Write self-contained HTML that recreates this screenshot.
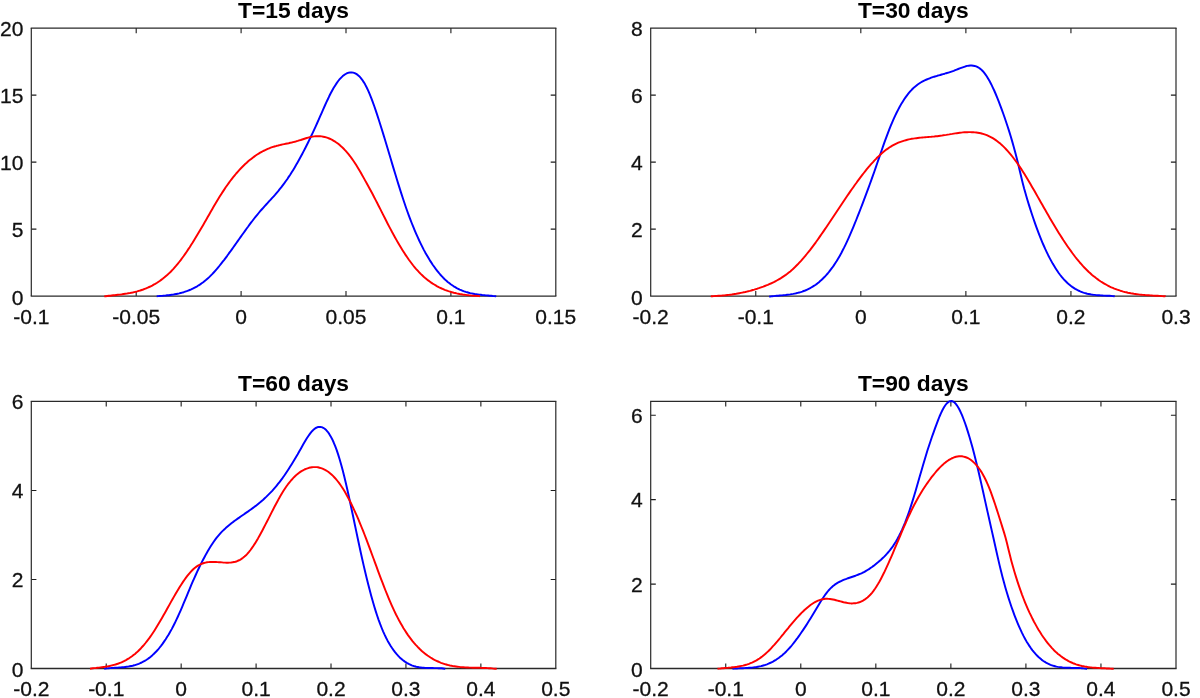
<!DOCTYPE html>
<html lang="en">
<head>
<meta charset="utf-8">
<title>Density estimates</title>
<style>
html,body{margin:0;padding:0;background:#fff;}
body{width:1200px;height:698px;overflow:hidden;font-family:"Liberation Sans",sans-serif;}
svg{display:block;will-change:transform;}
.t{font-family:"Liberation Sans",sans-serif;font-size:21.0px;fill:#111;stroke:#111;stroke-width:0.3px;}
.h{font-family:"Liberation Sans",sans-serif;font-size:22.8px;font-weight:bold;fill:#000;}
</style>
</head>
<body>
<svg width="1200" height="698" viewBox="0 0 1200 698">
<rect width="1200" height="698" fill="#fff"/>
<g><path d="M136.20,296.10v-5.1M136.20,28.10v5.1M241.10,296.10v-5.1M241.10,28.10v5.1M346.00,296.10v-5.1M346.00,28.10v5.1M450.90,296.10v-5.1M450.90,28.10v5.1M31.30,229.10h5.1M555.80,229.10h-5.1M31.30,162.10h5.1M555.80,162.10h-5.1M31.30,95.10h5.1M555.80,95.10h-5.1" stroke="#1c1c1c" stroke-width="1.1" fill="none"/>
<path d="M30.70,28.10H556.40M30.70,296.10H556.40" fill="none" stroke="#2a2a2a" stroke-width="1.35"/>
<path d="M31.30,28.10V296.10M555.80,28.10V296.10" fill="none" stroke="#2a2a2a" stroke-width="1.2"/>
<path d="M156.7,296.2 L158.2,296.1 L159.7,296.0 L161.2,295.9 L162.7,295.8 L164.2,295.6 L165.7,295.5 L167.2,295.3 L168.7,295.2 L170.2,295.0 L171.7,294.8 L173.2,294.6 L174.7,294.3 L176.2,294.0 L177.7,293.7 L179.2,293.4 L180.7,293.0 L182.2,292.6 L183.7,292.2 L185.2,291.7 L186.7,291.2 L188.2,290.6 L189.7,290.0 L191.2,289.4 L192.7,288.7 L194.2,287.9 L195.7,287.1 L197.2,286.3 L198.7,285.3 L200.2,284.4 L201.7,283.3 L203.2,282.2 L204.7,281.0 L206.2,279.8 L207.7,278.5 L209.2,277.1 L210.7,275.6 L212.2,274.1 L213.7,272.5 L215.2,270.8 L216.7,269.1 L218.2,267.3 L219.7,265.5 L221.2,263.6 L222.7,261.7 L224.2,259.8 L225.7,257.8 L227.2,255.8 L228.7,253.7 L230.2,251.7 L231.7,249.6 L233.2,247.5 L234.7,245.4 L236.2,243.3 L237.7,241.1 L239.2,239.0 L240.7,236.9 L242.2,234.8 L243.7,232.7 L245.2,230.6 L246.7,228.5 L248.2,226.5 L249.7,224.4 L251.2,222.4 L252.7,220.5 L254.2,218.5 L255.7,216.6 L257.2,214.8 L258.7,213.0 L260.2,211.2 L261.7,209.5 L263.2,207.8 L264.7,206.1 L266.2,204.5 L267.7,202.9 L269.2,201.2 L270.7,199.6 L272.2,197.9 L273.7,196.3 L275.2,194.6 L276.7,192.8 L278.2,191.1 L279.7,189.2 L281.2,187.4 L282.7,185.4 L284.2,183.4 L285.7,181.3 L287.2,179.2 L288.7,176.9 L290.2,174.7 L291.7,172.3 L293.2,169.9 L294.7,167.4 L296.2,164.8 L297.7,162.2 L299.2,159.5 L300.7,156.8 L302.2,154.0 L303.7,151.1 L305.2,148.2 L306.7,145.2 L308.2,142.2 L309.7,139.1 L311.2,136.0 L312.7,132.8 L314.2,129.6 L315.7,126.3 L317.2,123.0 L318.7,119.6 L320.2,116.2 L321.7,112.8 L323.2,109.4 L324.7,106.0 L326.2,102.7 L327.7,99.5 L329.2,96.3 L330.7,93.3 L332.2,90.5 L333.7,87.8 L335.2,85.4 L336.7,83.1 L338.2,81.0 L339.7,79.2 L341.2,77.6 L342.7,76.1 L344.2,74.9 L345.7,74.0 L347.2,73.2 L348.7,72.7 L350.2,72.4 L351.7,72.4 L353.2,72.6 L354.7,73.1 L356.2,73.9 L357.7,74.9 L359.2,76.2 L360.7,77.9 L362.2,79.8 L363.7,82.1 L365.2,84.6 L366.7,87.5 L368.2,90.7 L369.7,94.2 L371.2,97.9 L372.7,101.9 L374.2,106.0 L375.7,110.4 L377.2,114.9 L378.7,119.5 L380.2,124.2 L381.7,129.0 L383.2,133.9 L384.7,138.8 L386.2,143.8 L387.7,148.8 L389.2,153.8 L390.7,158.8 L392.2,163.9 L393.7,168.9 L395.2,173.8 L396.7,178.8 L398.2,183.6 L399.7,188.4 L401.2,193.1 L402.7,197.8 L404.2,202.3 L405.7,206.7 L407.2,211.0 L408.7,215.1 L410.2,219.1 L411.7,223.0 L413.2,226.7 L414.7,230.3 L416.2,233.8 L417.7,237.2 L419.2,240.5 L420.7,243.6 L422.2,246.6 L423.7,249.6 L425.2,252.4 L426.7,255.0 L428.2,257.6 L429.7,260.1 L431.2,262.4 L432.7,264.7 L434.2,266.8 L435.7,268.9 L437.2,270.8 L438.7,272.7 L440.2,274.5 L441.7,276.1 L443.2,277.7 L444.7,279.2 L446.2,280.6 L447.7,281.9 L449.2,283.1 L450.7,284.3 L452.2,285.3 L453.7,286.3 L455.2,287.2 L456.7,288.1 L458.2,288.8 L459.7,289.6 L461.2,290.2 L462.7,290.8 L464.2,291.4 L465.7,291.9 L467.2,292.3 L468.7,292.7 L470.2,293.1 L471.7,293.4 L473.2,293.7 L474.7,294.0 L476.2,294.2 L477.7,294.4 L479.2,294.6 L480.7,294.8 L482.2,295.0 L483.7,295.1 L485.2,295.3 L486.7,295.4 L488.2,295.5 L489.7,295.7 L491.2,295.8 L492.7,296.0 L494.2,296.1 L495.7,296.3 L496.2,296.4" fill="none" stroke="#0000ff" stroke-width="1.95" stroke-linejoin="round" stroke-linecap="butt"/>
<path d="M104.2,296.4 L105.7,296.2 L107.2,296.0 L108.7,295.8 L110.2,295.7 L111.7,295.5 L113.2,295.3 L114.7,295.2 L116.2,295.0 L117.7,294.8 L119.2,294.6 L120.7,294.5 L122.2,294.3 L123.7,294.0 L125.2,293.8 L126.7,293.6 L128.2,293.3 L129.7,293.1 L131.2,292.8 L132.7,292.5 L134.2,292.1 L135.7,291.8 L137.2,291.4 L138.7,290.9 L140.2,290.5 L141.7,290.0 L143.2,289.5 L144.7,288.9 L146.2,288.3 L147.7,287.7 L149.2,287.0 L150.7,286.3 L152.2,285.6 L153.7,284.7 L155.2,283.9 L156.7,283.0 L158.2,282.0 L159.7,281.0 L161.2,279.9 L162.7,278.8 L164.2,277.6 L165.7,276.3 L167.2,275.0 L168.7,273.6 L170.2,272.2 L171.7,270.7 L173.2,269.1 L174.7,267.4 L176.2,265.7 L177.7,263.9 L179.2,262.0 L180.7,260.1 L182.2,258.0 L183.7,256.0 L185.2,253.9 L186.7,251.7 L188.2,249.4 L189.7,247.2 L191.2,244.8 L192.7,242.5 L194.2,240.0 L195.7,237.6 L197.2,235.1 L198.7,232.6 L200.2,230.0 L201.7,227.5 L203.2,224.9 L204.7,222.3 L206.2,219.7 L207.7,217.0 L209.2,214.4 L210.7,211.8 L212.2,209.2 L213.7,206.6 L215.2,204.1 L216.7,201.6 L218.2,199.1 L219.7,196.6 L221.2,194.2 L222.7,191.9 L224.2,189.6 L225.7,187.3 L227.2,185.2 L228.7,183.1 L230.2,181.0 L231.7,179.1 L233.2,177.2 L234.7,175.3 L236.2,173.5 L237.7,171.8 L239.2,170.1 L240.7,168.5 L242.2,167.0 L243.7,165.5 L245.2,164.0 L246.7,162.7 L248.2,161.3 L249.7,160.1 L251.2,158.9 L252.7,157.7 L254.2,156.6 L255.7,155.5 L257.2,154.5 L258.7,153.6 L260.2,152.7 L261.7,151.8 L263.2,151.0 L264.7,150.3 L266.2,149.6 L267.7,148.9 L269.2,148.3 L270.7,147.7 L272.2,147.2 L273.7,146.7 L275.2,146.3 L276.7,145.8 L278.2,145.5 L279.7,145.1 L281.2,144.7 L282.7,144.4 L284.2,144.1 L285.7,143.8 L287.2,143.5 L288.7,143.2 L290.2,142.8 L291.7,142.5 L293.2,142.1 L294.7,141.8 L296.2,141.3 L297.7,140.9 L299.2,140.4 L300.7,140.0 L302.2,139.5 L303.7,139.0 L305.2,138.5 L306.7,138.0 L308.2,137.6 L309.7,137.2 L311.2,136.9 L312.7,136.6 L314.2,136.4 L315.7,136.2 L317.2,136.2 L318.7,136.2 L320.2,136.3 L321.7,136.4 L323.2,136.7 L324.7,137.0 L326.2,137.4 L327.7,137.9 L329.2,138.5 L330.7,139.2 L332.2,139.9 L333.7,140.8 L335.2,141.7 L336.7,142.7 L338.2,143.8 L339.7,145.1 L341.2,146.4 L342.7,147.8 L344.2,149.3 L345.7,150.9 L347.2,152.6 L348.7,154.4 L350.2,156.3 L351.7,158.4 L353.2,160.5 L354.7,162.7 L356.2,165.1 L357.7,167.5 L359.2,170.0 L360.7,172.6 L362.2,175.2 L363.7,177.9 L365.2,180.6 L366.7,183.3 L368.2,186.0 L369.7,188.8 L371.2,191.5 L372.7,194.3 L374.2,197.2 L375.7,200.1 L377.2,203.0 L378.7,206.0 L380.2,208.9 L381.7,211.9 L383.2,214.9 L384.7,217.8 L386.2,220.8 L387.7,223.7 L389.2,226.6 L390.7,229.4 L392.2,232.3 L393.7,235.0 L395.2,237.7 L396.7,240.4 L398.2,243.0 L399.7,245.5 L401.2,248.0 L402.7,250.4 L404.2,252.8 L405.7,255.1 L407.2,257.3 L408.7,259.5 L410.2,261.5 L411.7,263.5 L413.2,265.5 L414.7,267.3 L416.2,269.1 L417.7,270.7 L419.2,272.3 L420.7,273.9 L422.2,275.3 L423.7,276.7 L425.2,278.0 L426.7,279.2 L428.2,280.4 L429.7,281.5 L431.2,282.6 L432.7,283.6 L434.2,284.5 L435.7,285.4 L437.2,286.3 L438.7,287.1 L440.2,287.8 L441.7,288.5 L443.2,289.1 L444.7,289.8 L446.2,290.3 L447.7,290.9 L449.2,291.4 L450.7,291.8 L452.2,292.3 L453.7,292.7 L455.2,293.0 L456.7,293.4 L458.2,293.7 L459.7,294.0 L461.2,294.2 L462.7,294.5 L464.2,294.7 L465.7,294.9 L467.2,295.1 L468.7,295.3 L470.2,295.4 L471.7,295.6 L473.2,295.7 L474.7,295.8 L476.2,295.9 L477.7,296.0 L479.2,296.1 L480.0,296.2" fill="none" stroke="#ff0000" stroke-width="1.95" stroke-linejoin="round" stroke-linecap="butt"/>
<text x="31.30" y="324.10" text-anchor="middle" class="t">-0.1</text>
<text x="136.20" y="324.10" text-anchor="middle" class="t">-0.05</text>
<text x="241.10" y="324.10" text-anchor="middle" class="t">0</text>
<text x="346.00" y="324.10" text-anchor="middle" class="t">0.05</text>
<text x="450.90" y="324.10" text-anchor="middle" class="t">0.1</text>
<text x="555.80" y="324.10" text-anchor="middle" class="t">0.15</text>
<text x="23.40" y="304.80" text-anchor="end" class="t">0</text>
<text x="23.40" y="236.80" text-anchor="end" class="t">5</text>
<text x="23.40" y="169.80" text-anchor="end" class="t">10</text>
<text x="23.40" y="102.80" text-anchor="end" class="t">15</text>
<text x="23.40" y="35.80" text-anchor="end" class="t">20</text>
<text x="293.55" y="17.70" text-anchor="middle" class="h">T=15 days</text></g>
<g><path d="M755.76,296.10v-5.1M755.76,28.10v5.1M860.82,296.10v-5.1M860.82,28.10v5.1M965.88,296.10v-5.1M965.88,28.10v5.1M1070.94,296.10v-5.1M1070.94,28.10v5.1M650.70,229.10h5.1M1176.00,229.10h-5.1M650.70,162.10h5.1M1176.00,162.10h-5.1M650.70,95.10h5.1M1176.00,95.10h-5.1" stroke="#1c1c1c" stroke-width="1.1" fill="none"/>
<path d="M650.10,28.10H1176.60M650.10,296.10H1176.60" fill="none" stroke="#2a2a2a" stroke-width="1.35"/>
<path d="M650.70,28.10V296.10M1176.00,28.10V296.10" fill="none" stroke="#2a2a2a" stroke-width="1.2"/>
<path d="M769.2,296.4 L770.7,296.4 L772.2,296.2 L773.7,296.1 L775.2,295.9 L776.7,295.8 L778.2,295.7 L779.7,295.5 L781.2,295.4 L782.7,295.3 L784.2,295.1 L785.7,295.0 L787.2,294.8 L788.7,294.6 L790.2,294.4 L791.7,294.1 L793.2,293.9 L794.7,293.6 L796.2,293.3 L797.7,292.9 L799.2,292.5 L800.7,292.1 L802.2,291.6 L803.7,291.0 L805.2,290.5 L806.7,289.8 L808.2,289.1 L809.7,288.4 L811.2,287.5 L812.7,286.6 L814.2,285.7 L815.7,284.7 L817.2,283.6 L818.7,282.4 L820.2,281.1 L821.7,279.8 L823.2,278.3 L824.7,276.8 L826.2,275.2 L827.7,273.5 L829.2,271.7 L830.7,269.7 L832.2,267.7 L833.7,265.6 L835.2,263.3 L836.7,261.0 L838.2,258.5 L839.7,255.9 L841.2,253.2 L842.7,250.3 L844.2,247.4 L845.7,244.3 L847.2,241.1 L848.7,237.8 L850.2,234.4 L851.7,230.9 L853.2,227.3 L854.7,223.7 L856.2,220.0 L857.7,216.2 L859.2,212.4 L860.7,208.5 L862.2,204.6 L863.7,200.7 L865.2,196.7 L866.7,192.7 L868.2,188.6 L869.7,184.5 L871.2,180.4 L872.7,176.2 L874.2,172.0 L875.7,167.6 L877.2,163.3 L878.7,158.9 L880.2,154.6 L881.7,150.2 L883.2,145.9 L884.7,141.7 L886.2,137.6 L887.7,133.6 L889.2,129.7 L890.7,125.9 L892.2,122.3 L893.7,118.9 L895.2,115.6 L896.7,112.5 L898.2,109.6 L899.7,106.8 L901.2,104.1 L902.7,101.7 L904.2,99.3 L905.7,97.1 L907.2,95.1 L908.7,93.2 L910.2,91.4 L911.7,89.8 L913.2,88.3 L914.7,86.9 L916.2,85.7 L917.7,84.5 L919.2,83.5 L920.7,82.5 L922.2,81.7 L923.7,80.9 L925.2,80.2 L926.7,79.5 L928.2,78.9 L929.7,78.3 L931.2,77.7 L932.7,77.2 L934.2,76.7 L935.7,76.3 L937.2,75.8 L938.7,75.4 L940.2,75.0 L941.7,74.5 L943.2,74.1 L944.7,73.7 L946.2,73.2 L947.7,72.8 L949.2,72.3 L950.7,71.8 L952.2,71.3 L953.7,70.8 L955.2,70.2 L956.7,69.6 L958.2,69.0 L959.7,68.4 L961.2,67.8 L962.7,67.3 L964.2,66.8 L965.7,66.3 L967.2,65.9 L968.7,65.7 L970.2,65.5 L971.7,65.5 L973.2,65.7 L974.7,66.0 L976.2,66.4 L977.7,67.1 L979.2,68.0 L980.7,69.1 L982.2,70.5 L983.7,72.2 L985.2,74.1 L986.7,76.2 L988.2,78.7 L989.7,81.3 L991.2,84.2 L992.7,87.3 L994.2,90.5 L995.7,94.0 L997.2,97.6 L998.7,101.4 L1000.2,105.3 L1001.7,109.4 L1003.2,113.5 L1004.7,117.8 L1006.2,122.2 L1007.7,126.7 L1009.2,131.4 L1010.7,136.3 L1012.2,141.4 L1013.7,146.7 L1015.2,152.2 L1016.7,158.0 L1018.2,164.1 L1019.7,170.4 L1021.2,176.8 L1022.7,182.9 L1024.2,188.7 L1025.7,194.0 L1027.2,199.2 L1028.7,204.1 L1030.2,208.9 L1031.7,213.5 L1033.2,218.0 L1034.7,222.4 L1036.2,226.6 L1037.7,230.7 L1039.2,234.6 L1040.7,238.4 L1042.2,242.0 L1043.7,245.5 L1045.2,248.9 L1046.7,252.1 L1048.2,255.2 L1049.7,258.1 L1051.2,260.9 L1052.7,263.6 L1054.2,266.1 L1055.7,268.5 L1057.2,270.8 L1058.7,273.0 L1060.2,275.0 L1061.7,276.9 L1063.2,278.7 L1064.7,280.3 L1066.2,281.8 L1067.7,283.3 L1069.2,284.6 L1070.7,285.8 L1072.2,286.9 L1073.7,287.9 L1075.2,288.9 L1076.7,289.7 L1078.2,290.5 L1079.7,291.2 L1081.2,291.8 L1082.7,292.4 L1084.2,292.9 L1085.7,293.3 L1087.2,293.7 L1088.7,294.0 L1090.2,294.3 L1091.7,294.6 L1093.2,294.8 L1094.7,294.9 L1096.2,295.1 L1097.7,295.2 L1099.2,295.3 L1100.7,295.4 L1102.2,295.5 L1103.7,295.6 L1105.2,295.6 L1106.7,295.7 L1108.2,295.8 L1109.7,295.8 L1111.2,295.9 L1112.7,296.1 L1114.2,296.2 L1114.7,296.3" fill="none" stroke="#0000ff" stroke-width="1.95" stroke-linejoin="round" stroke-linecap="butt"/>
<path d="M710.8,296.2 L712.3,296.2 L713.8,296.1 L715.3,296.0 L716.8,295.9 L718.3,295.8 L719.8,295.7 L721.3,295.6 L722.8,295.5 L724.3,295.4 L725.8,295.2 L727.3,295.0 L728.8,294.9 L730.3,294.7 L731.8,294.5 L733.3,294.2 L734.8,294.0 L736.3,293.8 L737.8,293.5 L739.3,293.2 L740.8,292.9 L742.3,292.6 L743.8,292.3 L745.3,292.0 L746.8,291.6 L748.3,291.2 L749.8,290.9 L751.3,290.5 L752.8,290.0 L754.3,289.6 L755.8,289.1 L757.3,288.7 L758.8,288.2 L760.3,287.6 L761.8,287.1 L763.3,286.6 L764.8,286.0 L766.3,285.4 L767.8,284.8 L769.3,284.1 L770.8,283.5 L772.3,282.8 L773.8,282.1 L775.3,281.3 L776.8,280.5 L778.3,279.7 L779.8,278.8 L781.3,277.9 L782.8,276.9 L784.3,275.9 L785.8,274.9 L787.3,273.8 L788.8,272.6 L790.3,271.4 L791.8,270.1 L793.3,268.7 L794.8,267.3 L796.3,265.8 L797.8,264.3 L799.3,262.7 L800.8,261.1 L802.3,259.4 L803.8,257.7 L805.3,255.9 L806.8,254.0 L808.3,252.2 L809.8,250.3 L811.3,248.3 L812.8,246.3 L814.3,244.3 L815.8,242.3 L817.3,240.2 L818.8,238.1 L820.3,235.9 L821.8,233.8 L823.3,231.6 L824.8,229.4 L826.3,227.2 L827.8,225.0 L829.3,222.8 L830.8,220.5 L832.3,218.3 L833.8,216.0 L835.3,213.7 L836.8,211.5 L838.3,209.2 L839.8,207.0 L841.3,204.7 L842.8,202.5 L844.3,200.2 L845.8,198.0 L847.3,195.8 L848.8,193.6 L850.3,191.4 L851.8,189.3 L853.3,187.2 L854.8,185.0 L856.3,183.0 L857.8,180.9 L859.3,178.9 L860.8,176.9 L862.3,174.9 L863.8,173.0 L865.3,171.1 L866.8,169.2 L868.3,167.4 L869.8,165.7 L871.3,163.9 L872.8,162.3 L874.3,160.6 L875.8,159.1 L877.3,157.5 L878.8,156.1 L880.3,154.7 L881.8,153.3 L883.3,152.0 L884.8,150.8 L886.3,149.6 L887.8,148.6 L889.3,147.5 L890.8,146.6 L892.3,145.7 L893.8,144.9 L895.3,144.1 L896.8,143.4 L898.3,142.7 L899.8,142.1 L901.3,141.6 L902.8,141.1 L904.3,140.6 L905.8,140.2 L907.3,139.8 L908.8,139.4 L910.3,139.1 L911.8,138.8 L913.3,138.6 L914.8,138.4 L916.3,138.2 L917.8,138.0 L919.3,137.8 L920.8,137.6 L922.3,137.5 L923.8,137.4 L925.3,137.2 L926.8,137.1 L928.3,137.0 L929.8,136.9 L931.3,136.8 L932.8,136.6 L934.3,136.5 L935.8,136.3 L937.3,136.2 L938.8,136.0 L940.3,135.8 L941.8,135.6 L943.3,135.3 L944.8,135.1 L946.3,134.9 L947.8,134.6 L949.3,134.4 L950.8,134.1 L952.3,133.9 L953.8,133.6 L955.3,133.4 L956.8,133.2 L958.3,133.0 L959.8,132.8 L961.3,132.6 L962.8,132.4 L964.3,132.3 L965.8,132.2 L967.3,132.2 L968.8,132.1 L970.3,132.1 L971.8,132.2 L973.3,132.2 L974.8,132.4 L976.3,132.5 L977.8,132.7 L979.3,133.0 L980.8,133.3 L982.3,133.7 L983.8,134.2 L985.3,134.7 L986.8,135.2 L988.3,135.9 L989.8,136.6 L991.3,137.3 L992.8,138.2 L994.3,139.1 L995.8,140.1 L997.3,141.2 L998.8,142.4 L1000.3,143.6 L1001.8,145.0 L1003.3,146.4 L1004.8,147.9 L1006.3,149.5 L1007.8,151.1 L1009.3,152.8 L1010.8,154.6 L1012.3,156.5 L1013.8,158.5 L1015.3,160.5 L1016.8,162.5 L1018.3,164.7 L1019.8,166.9 L1021.3,169.1 L1022.8,171.5 L1024.3,173.8 L1025.8,176.3 L1027.3,178.7 L1028.8,181.2 L1030.3,183.8 L1031.8,186.4 L1033.3,189.0 L1034.8,191.6 L1036.3,194.2 L1037.8,196.9 L1039.3,199.5 L1040.8,202.2 L1042.3,204.8 L1043.8,207.5 L1045.3,210.1 L1046.8,212.7 L1048.3,215.3 L1049.8,217.9 L1051.3,220.5 L1052.8,223.0 L1054.3,225.5 L1055.8,228.0 L1057.3,230.5 L1058.8,232.9 L1060.3,235.3 L1061.8,237.6 L1063.3,240.0 L1064.8,242.2 L1066.3,244.5 L1067.8,246.7 L1069.3,248.8 L1070.8,250.9 L1072.3,253.0 L1073.8,255.0 L1075.3,257.0 L1076.8,258.9 L1078.3,260.7 L1079.8,262.5 L1081.3,264.2 L1082.8,265.9 L1084.3,267.5 L1085.8,269.0 L1087.3,270.5 L1088.8,272.0 L1090.3,273.3 L1091.8,274.7 L1093.3,275.9 L1094.8,277.1 L1096.3,278.3 L1097.8,279.4 L1099.3,280.5 L1100.8,281.5 L1102.3,282.4 L1103.8,283.3 L1105.3,284.2 L1106.8,285.0 L1108.3,285.8 L1109.8,286.6 L1111.3,287.3 L1112.8,287.9 L1114.3,288.6 L1115.8,289.1 L1117.3,289.7 L1118.8,290.2 L1120.3,290.7 L1121.8,291.1 L1123.3,291.6 L1124.8,292.0 L1126.3,292.3 L1127.8,292.7 L1129.3,293.0 L1130.8,293.3 L1132.3,293.5 L1133.8,293.8 L1135.3,294.0 L1136.8,294.2 L1138.3,294.4 L1139.8,294.6 L1141.3,294.7 L1142.8,294.9 L1144.3,295.0 L1145.8,295.1 L1147.3,295.2 L1148.8,295.3 L1150.3,295.4 L1151.8,295.5 L1153.3,295.6 L1154.8,295.7 L1156.3,295.8 L1157.8,295.8 L1159.3,295.9 L1160.8,296.0 L1162.3,296.1 L1163.8,296.2 L1165.3,296.2 L1165.6,296.3" fill="none" stroke="#ff0000" stroke-width="1.95" stroke-linejoin="round" stroke-linecap="butt"/>
<text x="650.70" y="324.10" text-anchor="middle" class="t">-0.2</text>
<text x="755.76" y="324.10" text-anchor="middle" class="t">-0.1</text>
<text x="860.82" y="324.10" text-anchor="middle" class="t">0</text>
<text x="965.88" y="324.10" text-anchor="middle" class="t">0.1</text>
<text x="1070.94" y="324.10" text-anchor="middle" class="t">0.2</text>
<text x="1176.00" y="324.10" text-anchor="middle" class="t">0.3</text>
<text x="642.80" y="304.80" text-anchor="end" class="t">0</text>
<text x="642.80" y="236.80" text-anchor="end" class="t">2</text>
<text x="642.80" y="169.80" text-anchor="end" class="t">4</text>
<text x="642.80" y="102.80" text-anchor="end" class="t">6</text>
<text x="642.80" y="35.80" text-anchor="end" class="t">8</text>
<text x="913.35" y="17.70" text-anchor="middle" class="h">T=30 days</text></g>
<g><path d="M106.23,668.50v-5.1M106.23,401.40v5.1M181.16,668.50v-5.1M181.16,401.40v5.1M256.09,668.50v-5.1M256.09,401.40v5.1M331.01,668.50v-5.1M331.01,401.40v5.1M405.94,668.50v-5.1M405.94,401.40v5.1M480.87,668.50v-5.1M480.87,401.40v5.1M31.30,579.47h5.1M555.80,579.47h-5.1M31.30,490.43h5.1M555.80,490.43h-5.1" stroke="#1c1c1c" stroke-width="1.1" fill="none"/>
<path d="M30.70,401.40H556.40M30.70,668.50H556.40" fill="none" stroke="#2a2a2a" stroke-width="1.35"/>
<path d="M31.30,401.40V668.50M555.80,401.40V668.50" fill="none" stroke="#2a2a2a" stroke-width="1.2"/>
<path d="M104.2,668.7 L105.7,668.5 L107.2,668.4 L108.7,668.2 L110.2,668.1 L111.7,668.0 L113.2,667.9 L114.7,667.8 L116.2,667.7 L117.7,667.6 L119.2,667.5 L120.7,667.4 L122.2,667.3 L123.7,667.2 L125.2,667.0 L126.7,666.8 L128.2,666.6 L129.7,666.3 L131.2,666.0 L132.7,665.7 L134.2,665.3 L135.7,664.8 L137.2,664.3 L138.7,663.8 L140.2,663.2 L141.7,662.5 L143.2,661.7 L144.7,660.9 L146.2,660.0 L147.7,659.0 L149.2,657.9 L150.7,656.7 L152.2,655.4 L153.7,654.0 L155.2,652.5 L156.7,651.0 L158.2,649.3 L159.7,647.5 L161.2,645.6 L162.7,643.6 L164.2,641.4 L165.7,639.2 L167.2,636.8 L168.7,634.4 L170.2,631.8 L171.7,629.1 L173.2,626.2 L174.7,623.3 L176.2,620.2 L177.7,617.0 L179.2,613.7 L180.7,610.3 L182.2,606.8 L183.7,603.2 L185.2,599.6 L186.7,596.0 L188.2,592.4 L189.7,588.8 L191.2,585.2 L192.7,581.7 L194.2,578.3 L195.7,575.0 L197.2,571.7 L198.7,568.5 L200.2,565.4 L201.7,562.4 L203.2,559.5 L204.7,556.7 L206.2,553.9 L207.7,551.3 L209.2,548.7 L210.7,546.3 L212.2,544.0 L213.7,541.7 L215.2,539.6 L216.7,537.6 L218.2,535.8 L219.7,534.1 L221.2,532.4 L222.7,530.9 L224.2,529.5 L225.7,528.1 L227.2,526.8 L228.7,525.5 L230.2,524.3 L231.7,523.1 L233.2,521.9 L234.7,520.8 L236.2,519.7 L237.7,518.6 L239.2,517.6 L240.7,516.5 L242.2,515.5 L243.7,514.5 L245.2,513.4 L246.7,512.4 L248.2,511.4 L249.7,510.3 L251.2,509.2 L252.7,508.1 L254.2,507.0 L255.7,505.9 L257.2,504.7 L258.7,503.5 L260.2,502.3 L261.7,501.0 L263.2,499.7 L264.7,498.3 L266.2,496.9 L267.7,495.4 L269.2,493.9 L270.7,492.4 L272.2,490.8 L273.7,489.1 L275.2,487.4 L276.7,485.6 L278.2,483.7 L279.7,481.8 L281.2,479.8 L282.7,477.8 L284.2,475.7 L285.7,473.5 L287.2,471.3 L288.7,469.0 L290.2,466.6 L291.7,464.2 L293.2,461.8 L294.7,459.3 L296.2,456.7 L297.7,454.2 L299.2,451.5 L300.7,448.9 L302.2,446.2 L303.7,443.6 L305.2,441.0 L306.7,438.5 L308.2,436.2 L309.7,434.1 L311.2,432.1 L312.7,430.5 L314.2,429.1 L315.7,428.0 L317.2,427.3 L318.7,426.9 L320.2,426.9 L321.7,427.1 L323.2,427.8 L324.7,428.8 L326.2,430.1 L327.7,431.8 L329.2,433.9 L330.7,436.4 L332.2,439.2 L333.7,442.5 L335.2,446.1 L336.7,450.1 L338.2,454.6 L339.7,459.5 L341.2,464.7 L342.7,470.3 L344.2,476.3 L345.7,482.5 L347.2,489.0 L348.7,495.7 L350.2,502.7 L351.7,509.7 L353.2,516.8 L354.7,524.0 L356.2,531.1 L357.7,538.3 L359.2,545.3 L360.7,552.2 L362.2,559.0 L363.7,565.6 L365.2,572.0 L366.7,578.2 L368.2,584.2 L369.7,590.1 L371.2,595.7 L372.7,601.0 L374.2,606.2 L375.7,611.1 L377.2,615.7 L378.7,620.1 L380.2,624.2 L381.7,628.0 L383.2,631.6 L384.7,634.9 L386.2,638.0 L387.7,640.9 L389.2,643.5 L390.7,646.0 L392.2,648.3 L393.7,650.4 L395.2,652.4 L396.7,654.2 L398.2,655.8 L399.7,657.4 L401.2,658.7 L402.7,660.0 L404.2,661.1 L405.7,662.2 L407.2,663.1 L408.7,663.9 L410.2,664.6 L411.7,665.3 L413.2,665.8 L414.7,666.3 L416.2,666.7 L417.7,667.0 L419.2,667.3 L420.7,667.5 L422.2,667.7 L423.7,667.8 L425.2,667.9 L426.7,668.0 L428.2,668.0 L429.7,668.0 L431.2,668.0 L432.7,668.0 L434.2,668.1 L435.7,668.1 L437.2,668.1 L438.7,668.2 L440.2,668.2 L441.7,668.3 L443.2,668.5 L444.7,668.7 L445.3,668.8" fill="none" stroke="#0000ff" stroke-width="1.95" stroke-linejoin="round" stroke-linecap="butt"/>
<path d="M90.0,668.7 L91.5,668.5 L93.0,668.3 L94.5,668.1 L96.0,668.0 L97.5,667.8 L99.0,667.6 L100.5,667.4 L102.0,667.2 L103.5,667.0 L105.0,666.8 L106.5,666.5 L108.0,666.3 L109.5,666.0 L111.0,665.6 L112.5,665.3 L114.0,664.9 L115.5,664.5 L117.0,664.0 L118.5,663.5 L120.0,662.9 L121.5,662.3 L123.0,661.6 L124.5,660.9 L126.0,660.1 L127.5,659.2 L129.0,658.3 L130.5,657.3 L132.0,656.3 L133.5,655.1 L135.0,653.9 L136.5,652.6 L138.0,651.2 L139.5,649.7 L141.0,648.2 L142.5,646.5 L144.0,644.8 L145.5,643.0 L147.0,641.1 L148.5,639.2 L150.0,637.1 L151.5,635.0 L153.0,632.8 L154.5,630.5 L156.0,628.1 L157.5,625.6 L159.0,623.1 L160.5,620.6 L162.0,618.0 L163.5,615.3 L165.0,612.7 L166.5,610.0 L168.0,607.3 L169.5,604.6 L171.0,601.9 L172.5,599.3 L174.0,596.6 L175.5,594.0 L177.0,591.5 L178.5,589.0 L180.0,586.5 L181.5,584.2 L183.0,581.9 L184.5,579.7 L186.0,577.6 L187.5,575.7 L189.0,573.8 L190.5,572.1 L192.0,570.5 L193.5,569.0 L195.0,567.7 L196.5,566.6 L198.0,565.6 L199.5,564.8 L201.0,564.0 L202.5,563.5 L204.0,563.0 L205.5,562.6 L207.0,562.3 L208.5,562.1 L210.0,562.0 L211.5,561.9 L213.0,561.9 L214.5,561.9 L216.0,562.0 L217.5,562.1 L219.0,562.2 L220.5,562.3 L222.0,562.4 L223.5,562.6 L225.0,562.6 L226.5,562.7 L228.0,562.7 L229.5,562.6 L231.0,562.5 L232.5,562.3 L234.0,562.0 L235.5,561.7 L237.0,561.2 L238.5,560.5 L240.0,559.8 L241.5,558.9 L243.0,557.8 L244.5,556.6 L246.0,555.3 L247.5,553.7 L249.0,551.9 L250.5,550.0 L252.0,547.9 L253.5,545.7 L255.0,543.4 L256.5,540.9 L258.0,538.4 L259.5,535.7 L261.0,533.0 L262.5,530.2 L264.0,527.3 L265.5,524.4 L267.0,521.5 L268.5,518.6 L270.0,515.6 L271.5,512.6 L273.0,509.7 L274.5,506.8 L276.0,504.0 L277.5,501.2 L279.0,498.4 L280.5,495.8 L282.0,493.2 L283.5,490.8 L285.0,488.5 L286.5,486.3 L288.0,484.2 L289.5,482.3 L291.0,480.5 L292.5,478.8 L294.0,477.2 L295.5,475.8 L297.0,474.4 L298.5,473.2 L300.0,472.1 L301.5,471.1 L303.0,470.3 L304.5,469.5 L306.0,468.8 L307.5,468.3 L309.0,467.8 L310.5,467.5 L312.0,467.2 L313.5,467.1 L315.0,467.1 L316.5,467.1 L318.0,467.3 L319.5,467.7 L321.0,468.1 L322.5,468.6 L324.0,469.3 L325.5,470.1 L327.0,471.0 L328.5,472.0 L330.0,473.2 L331.5,474.5 L333.0,475.9 L334.5,477.5 L336.0,479.2 L337.5,481.0 L339.0,482.9 L340.5,485.0 L342.0,487.2 L343.5,489.6 L345.0,492.1 L346.5,494.7 L348.0,497.5 L349.5,500.3 L351.0,503.3 L352.5,506.4 L354.0,509.6 L355.5,512.9 L357.0,516.2 L358.5,519.7 L360.0,523.3 L361.5,527.0 L363.0,530.7 L364.5,534.5 L366.0,538.4 L367.5,542.4 L369.0,546.4 L370.5,550.4 L372.0,554.5 L373.5,558.5 L375.0,562.6 L376.5,566.7 L378.0,570.8 L379.5,574.8 L381.0,578.8 L382.5,582.7 L384.0,586.6 L385.5,590.5 L387.0,594.2 L388.5,597.9 L390.0,601.4 L391.5,604.9 L393.0,608.2 L394.5,611.4 L396.0,614.5 L397.5,617.4 L399.0,620.3 L400.5,623.0 L402.0,625.6 L403.5,628.2 L405.0,630.6 L406.5,632.9 L408.0,635.1 L409.5,637.1 L411.0,639.1 L412.5,641.1 L414.0,642.9 L415.5,644.6 L417.0,646.2 L418.5,647.8 L420.0,649.3 L421.5,650.7 L423.0,652.0 L424.5,653.2 L426.0,654.4 L427.5,655.5 L429.0,656.5 L430.5,657.5 L432.0,658.4 L433.5,659.3 L435.0,660.1 L436.5,660.8 L438.0,661.5 L439.5,662.2 L441.0,662.8 L442.5,663.3 L444.0,663.8 L445.5,664.3 L447.0,664.7 L448.5,665.1 L450.0,665.5 L451.5,665.8 L453.0,666.1 L454.5,666.3 L456.0,666.5 L457.5,666.7 L459.0,666.9 L460.5,667.1 L462.0,667.2 L463.5,667.3 L465.0,667.4 L466.5,667.5 L468.0,667.5 L469.5,667.6 L471.0,667.6 L472.5,667.7 L474.0,667.7 L475.5,667.7 L477.0,667.8 L478.5,667.8 L480.0,667.8 L481.5,667.9 L483.0,667.9 L484.5,668.0 L486.0,668.0 L487.5,668.1 L489.0,668.2 L490.5,668.3 L492.0,668.4 L493.5,668.6 L495.0,668.7 L496.5,668.8 L496.7,668.8" fill="none" stroke="#ff0000" stroke-width="1.95" stroke-linejoin="round" stroke-linecap="butt"/>
<text x="31.30" y="696.30" text-anchor="middle" class="t">-0.2</text>
<text x="106.23" y="696.30" text-anchor="middle" class="t">-0.1</text>
<text x="181.16" y="696.30" text-anchor="middle" class="t">0</text>
<text x="256.09" y="696.30" text-anchor="middle" class="t">0.1</text>
<text x="331.01" y="696.30" text-anchor="middle" class="t">0.2</text>
<text x="405.94" y="696.30" text-anchor="middle" class="t">0.3</text>
<text x="480.87" y="696.30" text-anchor="middle" class="t">0.4</text>
<text x="555.80" y="696.30" text-anchor="middle" class="t">0.5</text>
<text x="23.40" y="677.20" text-anchor="end" class="t">0</text>
<text x="23.40" y="587.17" text-anchor="end" class="t">2</text>
<text x="23.40" y="498.13" text-anchor="end" class="t">4</text>
<text x="23.40" y="409.10" text-anchor="end" class="t">6</text>
<text x="293.55" y="391.00" text-anchor="middle" class="h">T=60 days</text></g>
<g><path d="M725.74,668.50v-5.1M725.74,401.40v5.1M800.79,668.50v-5.1M800.79,401.40v5.1M875.83,668.50v-5.1M875.83,401.40v5.1M950.87,668.50v-5.1M950.87,401.40v5.1M1025.91,668.50v-5.1M1025.91,401.40v5.1M1100.96,668.50v-5.1M1100.96,401.40v5.1M650.70,584.08h5.1M1176.00,584.08h-5.1M650.70,499.66h5.1M1176.00,499.66h-5.1M650.70,415.24h5.1M1176.00,415.24h-5.1" stroke="#1c1c1c" stroke-width="1.1" fill="none"/>
<path d="M650.10,401.40H1176.60M650.10,668.50H1176.60" fill="none" stroke="#2a2a2a" stroke-width="1.35"/>
<path d="M650.70,401.40V668.50M1176.00,401.40V668.50" fill="none" stroke="#2a2a2a" stroke-width="1.2"/>
<path d="M732.5,668.7 L734.0,668.6 L735.5,668.5 L737.0,668.5 L738.5,668.4 L740.0,668.3 L741.5,668.3 L743.0,668.2 L744.5,668.1 L746.0,668.0 L747.5,667.9 L749.0,667.8 L750.5,667.7 L752.0,667.6 L753.5,667.4 L755.0,667.2 L756.5,667.0 L758.0,666.7 L759.5,666.4 L761.0,666.1 L762.5,665.7 L764.0,665.3 L765.5,664.8 L767.0,664.3 L768.5,663.7 L770.0,663.0 L771.5,662.3 L773.0,661.6 L774.5,660.7 L776.0,659.8 L777.5,658.8 L779.0,657.8 L780.5,656.6 L782.0,655.4 L783.5,654.1 L785.0,652.7 L786.5,651.2 L788.0,649.6 L789.5,648.0 L791.0,646.3 L792.5,644.5 L794.0,642.6 L795.5,640.7 L797.0,638.7 L798.5,636.6 L800.0,634.5 L801.5,632.3 L803.0,630.1 L804.5,627.9 L806.0,625.6 L807.5,623.2 L809.0,620.8 L810.5,618.4 L812.0,616.0 L813.5,613.5 L815.0,611.0 L816.5,608.5 L818.0,606.0 L819.5,603.5 L821.0,601.1 L822.5,598.7 L824.0,596.5 L825.5,594.3 L827.0,592.3 L828.5,590.5 L830.0,588.9 L831.5,587.4 L833.0,586.1 L834.5,584.9 L836.0,583.8 L837.5,582.9 L839.0,582.0 L840.5,581.3 L842.0,580.6 L843.5,579.9 L845.0,579.3 L846.5,578.8 L848.0,578.2 L849.5,577.7 L851.0,577.2 L852.5,576.7 L854.0,576.2 L855.5,575.7 L857.0,575.1 L858.5,574.5 L860.0,573.9 L861.5,573.3 L863.0,572.5 L864.5,571.8 L866.0,570.9 L867.5,570.0 L869.0,569.1 L870.5,568.0 L872.0,567.0 L873.5,565.9 L875.0,564.7 L876.5,563.5 L878.0,562.3 L879.5,561.0 L881.0,559.7 L882.5,558.3 L884.0,556.9 L885.5,555.3 L887.0,553.7 L888.5,552.0 L890.0,550.2 L891.5,548.2 L893.0,546.1 L894.5,543.8 L896.0,541.4 L897.5,538.8 L899.0,536.0 L900.5,533.0 L902.0,529.8 L903.5,526.4 L905.0,522.8 L906.5,518.9 L908.0,514.8 L909.5,510.5 L911.0,505.9 L912.5,501.1 L914.0,496.2 L915.5,491.2 L917.0,486.0 L918.5,480.8 L920.0,475.6 L921.5,470.4 L923.0,465.2 L924.5,460.2 L926.0,455.2 L927.5,450.3 L929.0,445.7 L930.5,441.2 L932.0,436.8 L933.5,432.6 L935.0,428.4 L936.5,424.3 L938.0,420.3 L939.5,416.5 L941.0,413.1 L942.5,410.0 L944.0,407.3 L945.5,405.0 L947.0,403.2 L948.5,401.9 L950.0,401.2 L951.5,401.0 L953.0,401.5 L954.5,402.5 L956.0,404.1 L957.5,406.2 L959.0,408.8 L960.5,411.8 L962.0,415.2 L963.5,419.0 L965.0,423.0 L966.5,427.4 L968.0,432.1 L969.5,437.0 L971.0,442.2 L972.5,447.6 L974.0,453.3 L975.5,459.2 L977.0,465.3 L978.5,471.6 L980.0,478.0 L981.5,484.6 L983.0,491.3 L984.5,498.1 L986.0,504.9 L987.5,511.6 L989.0,518.3 L990.5,525.0 L992.0,531.6 L993.5,538.3 L995.0,545.0 L996.5,551.8 L998.0,558.4 L999.5,564.9 L1001.0,571.1 L1002.5,577.0 L1004.0,582.6 L1005.5,588.0 L1007.0,593.0 L1008.5,597.9 L1010.0,602.5 L1011.5,607.0 L1013.0,611.2 L1014.5,615.3 L1016.0,619.2 L1017.5,622.9 L1019.0,626.4 L1020.5,629.7 L1022.0,632.9 L1023.5,635.9 L1025.0,638.7 L1026.5,641.4 L1028.0,643.8 L1029.5,646.1 L1031.0,648.3 L1032.5,650.3 L1034.0,652.2 L1035.5,653.9 L1037.0,655.5 L1038.5,657.0 L1040.0,658.3 L1041.5,659.6 L1043.0,660.7 L1044.5,661.7 L1046.0,662.6 L1047.5,663.4 L1049.0,664.1 L1050.5,664.8 L1052.0,665.3 L1053.5,665.8 L1055.0,666.2 L1056.5,666.6 L1058.0,666.9 L1059.5,667.1 L1061.0,667.3 L1062.5,667.5 L1064.0,667.6 L1065.5,667.7 L1067.0,667.8 L1068.5,667.8 L1070.0,667.8 L1071.5,667.9 L1073.0,667.9 L1074.5,667.9 L1076.0,667.9 L1077.5,668.0 L1079.0,668.0 L1080.5,668.1 L1082.0,668.2 L1083.5,668.4 L1085.0,668.6 L1086.5,668.8 L1087.0,668.8" fill="none" stroke="#0000ff" stroke-width="1.95" stroke-linejoin="round" stroke-linecap="butt"/>
<path d="M717.5,668.8 L719.0,668.6 L720.5,668.5 L722.0,668.3 L723.5,668.2 L725.0,668.0 L726.5,667.9 L728.0,667.8 L729.5,667.6 L731.0,667.5 L732.5,667.3 L734.0,667.2 L735.5,667.0 L737.0,666.8 L738.5,666.5 L740.0,666.2 L741.5,665.9 L743.0,665.6 L744.5,665.2 L746.0,664.8 L747.5,664.3 L749.0,663.8 L750.5,663.2 L752.0,662.6 L753.5,661.9 L755.0,661.1 L756.5,660.3 L758.0,659.4 L759.5,658.5 L761.0,657.4 L762.5,656.3 L764.0,655.1 L765.5,653.8 L767.0,652.4 L768.5,651.0 L770.0,649.5 L771.5,647.9 L773.0,646.2 L774.5,644.6 L776.0,642.8 L777.5,641.1 L779.0,639.3 L780.5,637.5 L782.0,635.6 L783.5,633.8 L785.0,631.9 L786.5,630.1 L788.0,628.3 L789.5,626.4 L791.0,624.6 L792.5,622.8 L794.0,621.1 L795.5,619.4 L797.0,617.7 L798.5,616.1 L800.0,614.5 L801.5,612.9 L803.0,611.5 L804.5,610.0 L806.0,608.7 L807.5,607.4 L809.0,606.2 L810.5,605.0 L812.0,604.0 L813.5,603.0 L815.0,602.1 L816.5,601.3 L818.0,600.6 L819.5,600.1 L821.0,599.6 L822.5,599.2 L824.0,599.0 L825.5,598.8 L827.0,598.8 L828.5,598.9 L830.0,599.0 L831.5,599.2 L833.0,599.5 L834.5,599.8 L836.0,600.2 L837.5,600.6 L839.0,601.0 L840.5,601.4 L842.0,601.8 L843.5,602.2 L845.0,602.5 L846.5,602.8 L848.0,603.1 L849.5,603.3 L851.0,603.4 L852.5,603.4 L854.0,603.3 L855.5,603.2 L857.0,602.9 L858.5,602.5 L860.0,602.0 L861.5,601.4 L863.0,600.6 L864.5,599.7 L866.0,598.6 L867.5,597.4 L869.0,596.1 L870.5,594.5 L872.0,592.8 L873.5,590.9 L875.0,588.8 L876.5,586.5 L878.0,584.1 L879.5,581.5 L881.0,578.7 L882.5,575.8 L884.0,572.8 L885.5,569.6 L887.0,566.4 L888.5,563.1 L890.0,559.7 L891.5,556.3 L893.0,552.8 L894.5,549.2 L896.0,545.7 L897.5,542.1 L899.0,538.5 L900.5,535.0 L902.0,531.4 L903.5,527.9 L905.0,524.5 L906.5,521.1 L908.0,517.7 L909.5,514.5 L911.0,511.3 L912.5,508.3 L914.0,505.3 L915.5,502.5 L917.0,499.7 L918.5,497.0 L920.0,494.5 L921.5,492.0 L923.0,489.6 L924.5,487.3 L926.0,485.0 L927.5,482.9 L929.0,480.8 L930.5,478.7 L932.0,476.7 L933.5,474.8 L935.0,473.0 L936.5,471.2 L938.0,469.5 L939.5,467.9 L941.0,466.4 L942.5,465.0 L944.0,463.6 L945.5,462.4 L947.0,461.3 L948.5,460.2 L950.0,459.3 L951.5,458.5 L953.0,457.8 L954.5,457.2 L956.0,456.8 L957.5,456.5 L959.0,456.3 L960.5,456.2 L962.0,456.3 L963.5,456.6 L965.0,457.0 L966.5,457.5 L968.0,458.2 L969.5,459.0 L971.0,460.0 L972.5,461.2 L974.0,462.6 L975.5,464.1 L977.0,465.8 L978.5,467.7 L980.0,469.8 L981.5,472.1 L983.0,474.7 L984.5,477.5 L986.0,480.5 L987.5,483.8 L989.0,487.4 L990.5,491.2 L992.0,495.3 L993.5,499.6 L995.0,504.0 L996.5,508.6 L998.0,513.3 L999.5,518.0 L1001.0,522.8 L1002.5,527.6 L1004.0,532.4 L1005.5,537.6 L1007.0,543.3 L1008.5,549.4 L1010.0,555.6 L1011.5,561.4 L1013.0,566.8 L1014.5,572.0 L1016.0,576.9 L1017.5,581.6 L1019.0,586.1 L1020.5,590.4 L1022.0,594.6 L1023.5,598.5 L1025.0,602.3 L1026.5,605.9 L1028.0,609.3 L1029.5,612.6 L1031.0,615.7 L1032.5,618.8 L1034.0,621.7 L1035.5,624.4 L1037.0,627.1 L1038.5,629.7 L1040.0,632.1 L1041.5,634.5 L1043.0,636.7 L1044.5,638.8 L1046.0,640.9 L1047.5,642.8 L1049.0,644.7 L1050.5,646.4 L1052.0,648.1 L1053.5,649.7 L1055.0,651.2 L1056.5,652.6 L1058.0,653.9 L1059.5,655.1 L1061.0,656.3 L1062.5,657.4 L1064.0,658.4 L1065.5,659.4 L1067.0,660.2 L1068.5,661.1 L1070.0,661.8 L1071.5,662.5 L1073.0,663.2 L1074.5,663.7 L1076.0,664.3 L1077.5,664.8 L1079.0,665.2 L1080.5,665.6 L1082.0,666.0 L1083.5,666.3 L1085.0,666.6 L1086.5,666.8 L1088.0,667.1 L1089.5,667.3 L1091.0,667.4 L1092.5,667.6 L1094.0,667.7 L1095.5,667.8 L1097.0,667.9 L1098.5,668.0 L1100.0,668.1 L1101.5,668.2 L1103.0,668.2 L1104.5,668.3 L1106.0,668.4 L1107.5,668.4 L1109.0,668.5 L1110.5,668.6 L1112.0,668.7 L1113.5,668.8 L1113.7,668.8" fill="none" stroke="#ff0000" stroke-width="1.95" stroke-linejoin="round" stroke-linecap="butt"/>
<text x="650.70" y="696.30" text-anchor="middle" class="t">-0.2</text>
<text x="725.74" y="696.30" text-anchor="middle" class="t">-0.1</text>
<text x="800.79" y="696.30" text-anchor="middle" class="t">0</text>
<text x="875.83" y="696.30" text-anchor="middle" class="t">0.1</text>
<text x="950.87" y="696.30" text-anchor="middle" class="t">0.2</text>
<text x="1025.91" y="696.30" text-anchor="middle" class="t">0.3</text>
<text x="1100.96" y="696.30" text-anchor="middle" class="t">0.4</text>
<text x="1176.00" y="696.30" text-anchor="middle" class="t">0.5</text>
<text x="642.80" y="677.20" text-anchor="end" class="t">0</text>
<text x="642.80" y="591.78" text-anchor="end" class="t">2</text>
<text x="642.80" y="507.36" text-anchor="end" class="t">4</text>
<text x="642.80" y="422.94" text-anchor="end" class="t">6</text>
<text x="913.35" y="391.00" text-anchor="middle" class="h">T=90 days</text></g>
</svg>
</body>
</html>
